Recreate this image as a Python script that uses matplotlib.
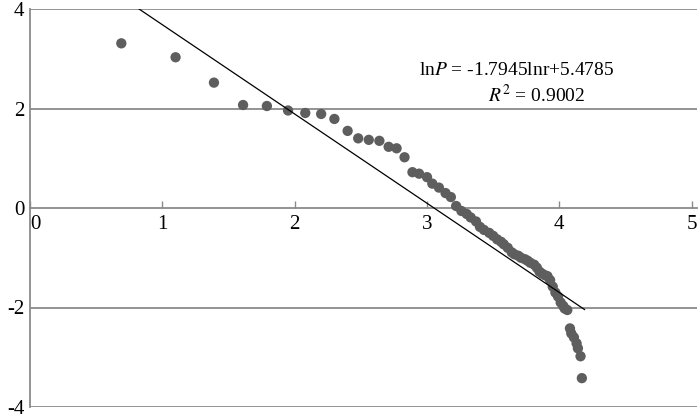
import numpy as np
import matplotlib.pyplot as plt

plt.rcParams['font.family'] = ['Liberation Serif', 'DejaVu Serif']
plt.rcParams['mathtext.fontset'] = 'stix'

# ln(rank) vs ln(P)
ln_r = [0.69, 1.10, 1.39, 1.61, 1.79, 1.95, 2.08, 2.20, 2.30, 2.40,
        2.48, 2.56, 2.64, 2.71, 2.77, 2.83, 2.89, 2.94, 3.00, 3.04,
        3.09, 3.14, 3.18, 3.22, 3.26, 3.30, 3.33, 3.37, 3.40, 3.43,
        3.47, 3.50, 3.53, 3.56, 3.58, 3.61, 3.64, 3.66, 3.69, 3.71,
        3.74, 3.76, 3.78, 3.81, 3.83, 3.85, 3.87, 3.89, 3.91, 3.93,
        3.95, 3.97, 3.99, 4.01, 4.03, 4.04, 4.06, 4.08, 4.09, 4.11,
        4.13, 4.14, 4.16, 4.17]
ln_p = [3.31, 3.03, 2.52, 2.07, 2.05, 1.96, 1.91, 1.89, 1.79, 1.55,
        1.40, 1.37, 1.35, 1.23, 1.20, 1.02, 0.72, 0.69, 0.62, 0.49,
        0.41, 0.30, 0.22, 0.04, -0.06, -0.12, -0.19, -0.27, -0.38, -0.44,
        -0.50, -0.56, -0.63, -0.68, -0.73, -0.80, -0.89, -0.93, -0.96, -1.00,
        -1.03, -1.06, -1.10, -1.14, -1.20, -1.28, -1.32, -1.35, -1.37, -1.45,
        -1.58, -1.70, -1.78, -1.90, -1.97, -2.02, -2.05, -2.42, -2.52, -2.60,
        -2.72, -2.82, -2.98, -3.42]

slope = -1.7945
intercept = 5.4785

fig = plt.figure(figsize=(7, 4.2), dpi=100)
ax = fig.add_axes([30/700, 13/420, 667/700, 398/420])

grid_c = '#8a8a8a'
ax.set_xlim(0, 5.04)
ax.set_ylim(-4, 4)

for yv in [4, 2, -2, -4]:
    ax.axhline(yv, color=grid_c, lw=1.3, zorder=1)

ax.scatter(ln_r, ln_p, s=55, color='#5e5e5e', edgecolors='none', zorder=3)

xl = np.array([min(ln_r), max(ln_r) + 0.02])
ax.plot(xl, slope * xl + intercept, color='black', lw=0.9, zorder=4, clip_on=True)

ax.spines['top'].set_visible(False)
ax.spines['right'].set_visible(False)
ax.spines['left'].set_color(grid_c)
ax.spines['left'].set_linewidth(1.3)
ax.spines['bottom'].set_position(('data', 0))
ax.spines['bottom'].set_color(grid_c)
ax.spines['bottom'].set_linewidth(1.3)

ax.set_xticks([0, 1, 2, 3, 4, 5])
ax.set_xticklabels(['0', '1', '2', '3', '4', '5'])
ax.set_yticks([4, 2, 0, -2, -4])
ax.set_yticklabels(['4', '2', '0', '-2', '-4'])
ax.tick_params(axis='x', direction='in', length=5, color=grid_c, width=1, pad=5, labelsize=15)
ax.tick_params(axis='y', length=0, pad=4, labelsize=15)
for lbl in ax.get_xticklabels():
    if lbl.get_text() == '0':
        lbl.set_ha('left')

ax.text(3.68, 2.77, r'ln$P$ = -1.7945lnr+5.4785', ha='center', va='center', fontsize=14)
ax.text(3.83, 2.27, r'$R^2$ = 0.9002', ha='center', va='center', fontsize=14)

fig.savefig('out.png', dpi=100)
